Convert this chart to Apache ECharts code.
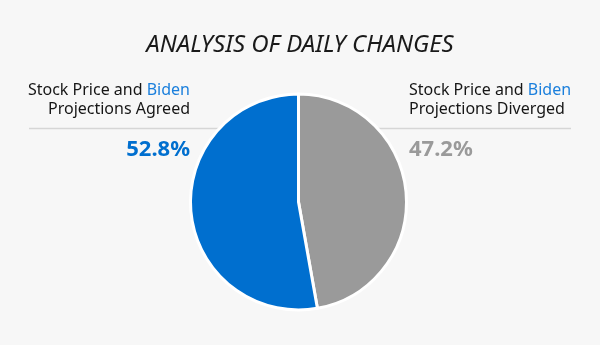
<!DOCTYPE html>
<html><head><meta charset="utf-8">
<script src="https://cdn.jsdelivr.net/npm/echarts@6/dist/echarts.min.js"></script>
<style>html,body{margin:0;padding:0;background:#f7f7f7}#c{width:600px;height:345px}</style>
</head><body><div id="c"></div>
<script>
const titleText = 'ANALYSIS OF DAILY CHANGES';
const categories = ['Projections Diverged', 'Projections Agreed'];
const values = [47.2, 52.8];
const colors = ['#9a9a9a', '#006fcf'];

const chart = echarts.init(document.getElementById('c'));
const font = "'Noto Sans', sans-serif";
const rich = {
  a: {font: "16px 'Noto Sans', sans-serif", fill: '#161616', lineHeight: 19},
  b: {font: "16px 'Noto Sans', sans-serif", fill: '#1a7fdc', lineHeight: 19}
};
function lbl(cat){ return '{a|Stock Price and }{b|Biden}\n{a|' + cat + '}'; }
chart.setOption({
  backgroundColor: '#f7f7f7',
  animation: false,
  title: {
    text: titleText, left: 'center', top: 28,
    textStyle: {fontFamily: font, fontStyle: 'italic', fontWeight: 'normal', fontSize: 24, color: '#1a1a1a'}
  },
  graphic: [
    {type: 'line', z: 0, shape: {x1: 29, y1: 128.5, x2: 571, y2: 128.5}, style: {stroke: '#d6d6d6', lineWidth: 1.5}},
    {type: 'text', x: 190, y: 81, style: {text: lbl(categories[1]), rich: rich, align: 'right', verticalAlign: 'top'}},
    {type: 'text', x: 409, y: 81, style: {text: lbl(categories[0]), rich: rich, align: 'left', verticalAlign: 'top'}},
    {type: 'text', x: 190, y: 139, style: {text: values[1].toFixed(1) + '%', font: "bold 22px 'Noto Sans', sans-serif", fill: colors[1], align: 'right', verticalAlign: 'top'}},
    {type: 'text', x: 409, y: 139, style: {text: values[0].toFixed(1) + '%', font: "bold 22px 'Noto Sans', sans-serif", fill: colors[0], align: 'left', verticalAlign: 'top'}}
  ],
  series: [{
    type: 'pie', z: 5,
    center: [298.5, 202], radius: 108, startAngle: 90, clockwise: true,
    label: {show: false}, labelLine: {show: false},
    emphasis: {disabled: true},
    itemStyle: {borderColor: '#ffffff', borderWidth: 3},
    data: categories.map((c, i) => ({name: c, value: values[i], itemStyle: {color: colors[i]}}))
  }]
});
</script></body></html>
